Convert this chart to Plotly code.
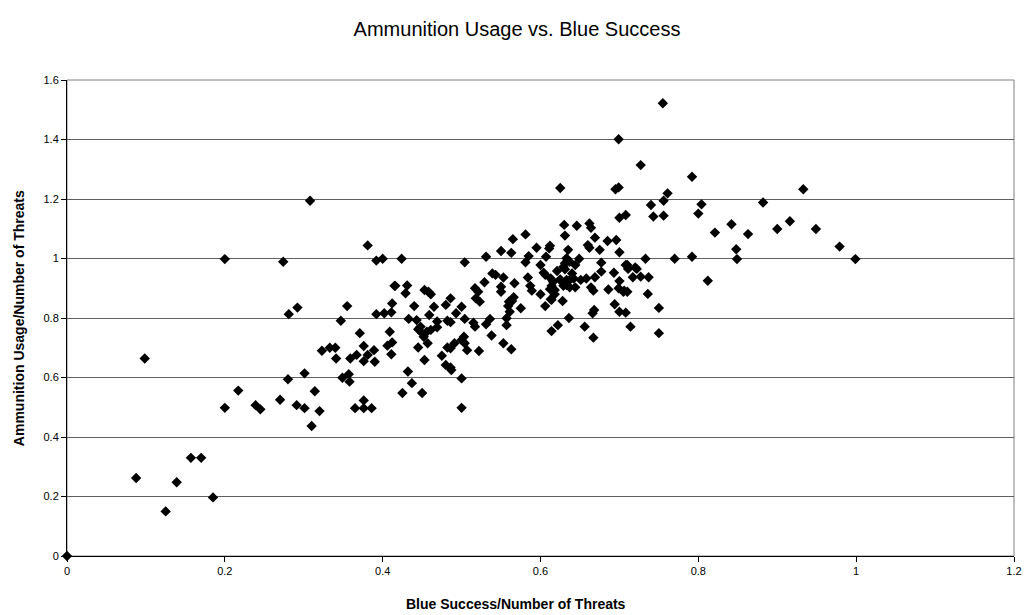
import plotly.graph_objects as go

blue_success = [
    0.0, 0.0876, 0.0985, 0.125, 0.139, 0.157, 0.170, 0.185, 0.200, 0.200, 0.217, 0.239, 0.245,
    0.308, 0.381, 0.274, 0.392, 0.400, 0.415, 0.281, 0.292, 0.355, 0.347, 0.392, 0.402, 0.412, 0.411,
    0.371, 0.409, 0.376, 0.323, 0.333, 0.340, 0.341, 0.359, 0.367, 0.381, 0.376, 0.390, 0.389, 0.406,
    0.412, 0.411, 0.301, 0.280, 0.349, 0.357, 0.358, 0.314, 0.270, 0.291, 0.301, 0.320, 0.310,
    0.365, 0.376, 0.386, 0.376,
    0.565, 0.550, 0.563, 0.424, 0.504, 0.531, 0.416, 0.431, 0.429, 0.453, 0.458, 0.461, 0.440, 0.465,
    0.486, 0.480, 0.500, 0.493, 0.517, 0.521, 0.518, 0.523, 0.529, 0.539, 0.543, 0.553, 0.550, 0.550,
    0.567, 0.560, 0.559, 0.561, 0.557, 0.557, 0.459, 0.433, 0.443, 0.469, 0.469, 0.482, 0.486, 0.504,
    0.515, 0.517, 0.531, 0.536, 0.538, 0.445, 0.448, 0.450, 0.452, 0.456, 0.461, 0.445, 0.457, 0.453,
    0.475, 0.482, 0.486, 0.491, 0.500, 0.503, 0.504, 0.507, 0.522, 0.553, 0.563, 0.480, 0.486, 0.487,
    0.500, 0.432, 0.437, 0.425, 0.450, 0.500,
    0.699, 0.625, 0.695, 0.699,
    0.700, 0.708, 0.630, 0.646, 0.662, 0.664, 0.581, 0.631, 0.660, 0.662, 0.669, 0.685, 0.696, 0.700,
    0.675, 0.595, 0.612, 0.611, 0.635, 0.585, 0.581, 0.607, 0.633, 0.637, 0.631, 0.644, 0.649, 0.600,
    0.604, 0.606, 0.621, 0.629, 0.631, 0.640, 0.642, 0.613, 0.616, 0.625, 0.627, 0.633, 0.637, 0.651,
    0.658, 0.669, 0.677, 0.693, 0.700, 0.677, 0.708, 0.584, 0.587, 0.589, 0.614, 0.618, 0.612, 0.618,
    0.614, 0.629, 0.633, 0.637, 0.644, 0.664, 0.667, 0.686, 0.699, 0.706, 0.600, 0.613, 0.628, 0.566,
    0.564, 0.606, 0.575, 0.668, 0.666, 0.694, 0.700, 0.708, 0.636, 0.622, 0.614, 0.656, 0.667,
    0.792, 0.761, 0.756, 0.740, 0.804, 0.800, 0.882, 0.743, 0.756, 0.821, 0.842, 0.863, 0.848, 0.849,
    0.733, 0.770, 0.792, 0.710, 0.711, 0.720, 0.722, 0.717, 0.727, 0.737, 0.812, 0.705, 0.710, 0.736,
    0.750, 0.714, 0.750,
    0.755, 0.727, 0.933, 0.900, 0.916, 0.949, 0.979, 0.999,
]

ammo_usage = [
    0.0, 0.262, 0.664, 0.150, 0.248, 0.330, 0.330, 0.197, 0.498, 0.998, 0.556, 0.507, 0.493,
    1.194, 1.044, 0.989, 0.993, 0.999, 0.908, 0.813, 0.835, 0.840, 0.791, 0.813, 0.816, 0.849, 0.819,
    0.749, 0.754, 0.706, 0.690, 0.700, 0.700, 0.664, 0.664, 0.676, 0.676, 0.655, 0.653, 0.692, 0.707,
    0.718, 0.678, 0.614, 0.594, 0.599, 0.611, 0.586, 0.554, 0.525, 0.507, 0.497, 0.487, 0.437,
    0.497, 0.497, 0.497, 0.523,
    1.065, 1.025, 1.019, 0.999, 0.987, 1.006, 0.908, 0.909, 0.883, 0.894, 0.888, 0.880, 0.840, 0.838,
    0.866, 0.844, 0.838, 0.816, 0.900, 0.888, 0.866, 0.855, 0.920, 0.950, 0.945, 0.936, 0.905, 0.888,
    0.917, 0.855, 0.840, 0.821, 0.799, 0.776, 0.810, 0.797, 0.793, 0.788, 0.769, 0.791, 0.786, 0.797,
    0.784, 0.771, 0.779, 0.797, 0.741, 0.762, 0.771, 0.749, 0.737, 0.754, 0.760, 0.701, 0.715, 0.659,
    0.673, 0.701, 0.698, 0.715, 0.726, 0.737, 0.715, 0.692, 0.689, 0.715, 0.695, 0.642, 0.634, 0.625,
    0.597, 0.620, 0.581, 0.548, 0.548, 0.498,
    1.401, 1.237, 1.233, 1.239,
    1.137, 1.146, 1.113, 1.110, 1.118, 1.103, 1.081, 1.077, 1.045, 1.036, 1.070, 1.059, 1.062, 1.021,
    1.029, 1.036, 1.043, 1.034, 1.029, 1.008, 0.987, 1.006, 1.001, 0.989, 0.984, 0.978, 0.999, 0.978,
    0.952, 0.945, 0.958, 0.972, 0.964, 0.950, 0.933, 0.933, 0.922, 0.930, 0.922, 0.928, 0.928, 0.928,
    0.933, 0.937, 0.956, 0.952, 0.924, 0.986, 0.978, 0.936, 0.908, 0.892, 0.908, 0.894, 0.897, 0.880,
    0.861, 0.908, 0.911, 0.903, 0.903, 0.903, 0.892, 0.896, 0.900, 0.892, 0.880, 0.863, 0.857, 0.870,
    0.857, 0.840, 0.833, 0.827, 0.816, 0.846, 0.821, 0.818, 0.800, 0.776, 0.756, 0.771, 0.734,
    1.275, 1.219, 1.194, 1.180, 1.182, 1.151, 1.188, 1.141, 1.144, 1.087, 1.115, 1.082, 1.031, 0.998,
    0.999, 0.999, 1.006, 0.978, 0.965, 0.970, 0.965, 0.937, 0.939, 0.937, 0.925, 0.888, 0.888, 0.881,
    0.834, 0.771, 0.749,
    1.522, 1.314, 1.233, 1.099, 1.125, 1.099, 1.040, 0.998,
]

x_ticks = [0, 0.2, 0.4, 0.6, 0.8, 1.0, 1.2]
x_tick_labels = ["0", "0.2", "0.4", "0.6", "0.8", "1", "1.2"]
y_ticks = [0, 0.2, 0.4, 0.6, 0.8, 1.0, 1.2, 1.4, 1.6]
y_tick_labels = ["0", "0.2", "0.4", "0.6", "0.8", "1", "1.2", "1.4", "1.6"]

title_text = "Ammunition Usage vs. Blue Success"
x_title = "Blue Success/Number of Threats"
y_title = "Ammunition Usage/Number of Threats"

fig = go.Figure()
fig.add_trace(go.Scatter(
    x=blue_success, y=ammo_usage, mode="markers",
    marker=dict(symbol="diamond", size=8, color="black", line=dict(width=0)),
    cliponaxis=False, showlegend=False,
))

fig.update_layout(
    width=1034, height=615,
    margin=dict(l=67, r=17, t=80, b=59),
    paper_bgcolor="white", plot_bgcolor="white",
    font=dict(family="Liberation Sans, Arial, sans-serif", color="black", size=11),
    title=dict(text=title_text, x=0.5, xanchor="center",
               y=0.953, yanchor="middle", font=dict(size=20)),
    shapes=[dict(type="rect", xref="paper", yref="paper", x0=0, y0=0, x1=1, y1=1,
                 line=dict(color="#808080", width=1), layer="below")],
    annotations=[
        dict(text="<b>" + x_title + "</b>", xref="paper", yref="paper",
             x=(517 - 67) / 950, y=(556 - 604) / 476, xanchor="center", yanchor="middle",
             showarrow=False, font=dict(size=14)),
        dict(text="<b>" + y_title + "</b>", xref="paper", yref="paper",
             x=(19 - 67) / 950, y=0.5, xanchor="center", yanchor="middle", textangle=-90,
             showarrow=False, font=dict(size=14)),
    ],
)
fig.update_xaxes(
    range=[0, 1.2], tickvals=x_ticks, ticktext=x_tick_labels,
    showgrid=False, zeroline=False, showline=True, linecolor="black", linewidth=1,
    ticks="outside", ticklen=5, tickcolor="black",
)
fig.update_yaxes(
    range=[0, 1.6], tickvals=y_ticks, ticktext=y_tick_labels,
    showgrid=True, gridcolor="#606060", gridwidth=1, zeroline=False,
    showline=True, linecolor="black", linewidth=1,
    ticks="outside", ticklen=5, tickcolor="black",
)

fig.write_html("out.html")
